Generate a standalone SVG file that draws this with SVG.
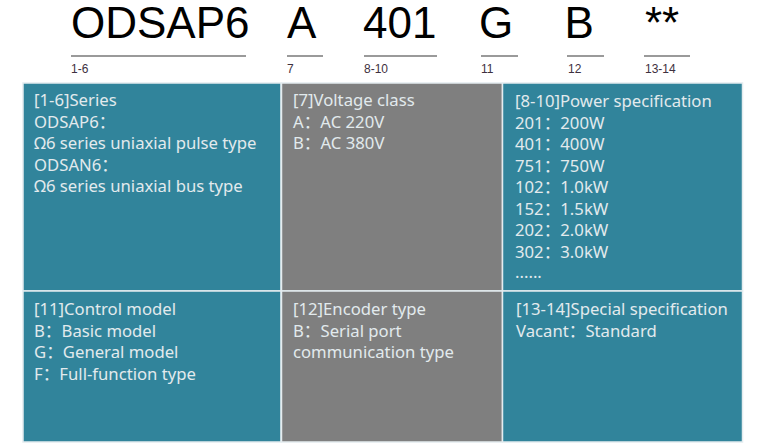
<svg xmlns="http://www.w3.org/2000/svg" width="760" height="443" viewBox="0 0 760 443">
<style>
.code{font-family:"Liberation Sans",Arial,sans-serif;font-size:44px;fill:#000}
.ul{stroke:#9a9a9a;stroke-width:2}
.pos{font-family:"Liberation Sans",Arial,sans-serif;font-size:12px;fill:#3e3040}
.teal{fill:#31849b}
.gray{fill:#7f7f7f}
.cell{stroke:#e4ecef;stroke-width:1.5}
.t{font-family:"Noto Sans","Noto Sans CJK SC",sans-serif;font-size:16.7px;fill:#e2eaed}
</style>
<rect width="760" height="443" fill="#fff"/>
<g id="header">
<text class="code" x="71" y="37.5">ODSAP6</text>
<text class="code" x="287" y="37.5">A</text>
<text class="code" x="363" y="37.5">401</text>
<text class="code" x="479" y="37.5">G</text>
<text class="code" x="564.5" y="37.5">B</text>
<text class="code" x="645" y="37.5">**</text>
<line class="ul" x1="71" y1="56" x2="246" y2="56"/>
<line class="ul" x1="287" y1="56" x2="323" y2="56"/>
<line class="ul" x1="364" y1="56" x2="437" y2="56"/>
<line class="ul" x1="481" y1="56" x2="518" y2="56"/>
<line class="ul" x1="567" y1="56" x2="604" y2="56"/>
<line class="ul" x1="644" y1="56" x2="690" y2="56"/>
<text class="pos" x="71" y="72.5" fill="#3f3226">1-6</text>
<text class="pos" x="287" y="72.5">7</text>
<text class="pos" x="364" y="72.5">8-10</text>
<text class="pos" x="481" y="72.5">11</text>
<text class="pos" x="568" y="72.5">12</text>
<text class="pos" x="645" y="72.5">13-14</text>
</g>
<g id="cell-series">
<rect class="teal cell" x="23" y="83" width="258" height="208"/>
<text class="t" x="34" y="106">[1-6]Series</text>
<text class="t" x="34" y="127.5">ODSAP6：</text>
<text class="t" x="34" y="149">Ω6 series uniaxial pulse type</text>
<text class="t" x="34" y="170.5">ODSAN6：</text>
<text class="t" x="34" y="192">Ω6 series uniaxial bus type</text>
</g>
<g id="cell-voltage">
<rect class="gray cell" x="281.5" y="83" width="221" height="208"/>
<text class="t" x="293" y="106">[7]Voltage class</text>
<text class="t" x="293" y="127.5">A：AC 220V</text>
<text class="t" x="293" y="149">B：AC 380V</text>
</g>
<g id="cell-power">
<rect class="teal cell" x="502.5" y="83" width="240" height="208"/>
<text class="t" x="515" y="107">[8-10]Power specification</text>
<text class="t" x="515" y="128.5">201：200W</text>
<text class="t" x="515" y="150">401：400W</text>
<text class="t" x="515" y="171.5">751：750W</text>
<text class="t" x="515" y="193">102：1.0kW</text>
<text class="t" x="515" y="214.5">152：1.5kW</text>
<text class="t" x="515" y="236">202：2.0kW</text>
<text class="t" x="515" y="257.5">302：3.0kW</text>
<text class="t" x="515" y="278" font-size="13">......</text>
</g>
<g id="cell-control">
<rect class="teal cell" x="23" y="291" width="258" height="151"/>
<text class="t" x="34" y="315">[11]Control model</text>
<text class="t" x="34" y="336.5">B：Basic model</text>
<text class="t" x="34" y="358">G：General model</text>
<text class="t" x="34" y="379.5">F：Full-function type</text>
</g>
<g id="cell-encoder">
<rect class="gray cell" x="281.5" y="291" width="221" height="151"/>
<text class="t" x="293" y="315">[12]Encoder type</text>
<text class="t" x="293" y="336.5">B：Serial port</text>
<text class="t" x="293" y="358">communication type</text>
</g>
<g id="cell-special">
<rect class="teal cell" x="502.5" y="291" width="240" height="151"/>
<text class="t" x="516" y="315">[13-14]Special specification</text>
<text class="t" x="516" y="336.5">Vacant：Standard</text>
</g>
</svg>
